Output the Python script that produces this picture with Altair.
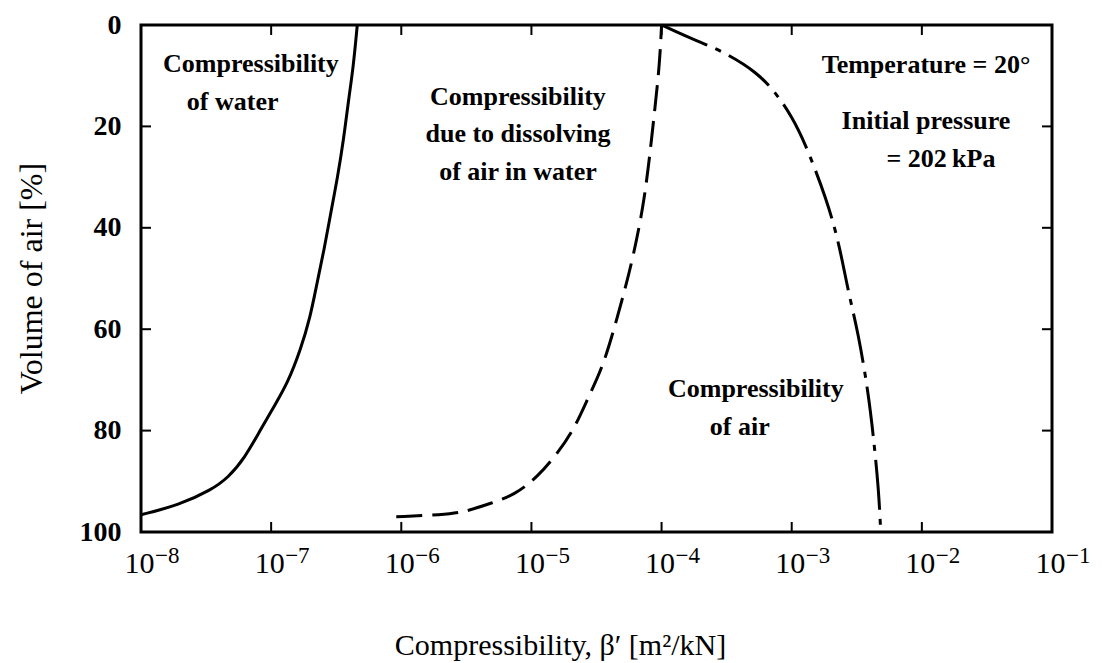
import altair as alt
import pandas as pd

# ---------------- data ----------------
beta_ticks = [1e-8, 1e-7, 1e-6, 1e-5, 1e-4, 1e-3, 1e-2, 1e-1]
beta_tick_base = "10"
beta_tick_exponents = ["−8", "−7", "−6", "−5", "−4", "−3", "−2", "−1"]
air_ticks = [0, 20, 40, 60, 80, 100]

# Compressibility of water (solid)
water_beta = [1.0e-8, 1.96e-8, 3.47e-8, 4.67e-8, 6.27e-8, 8.26e-8, 1.05e-7, 1.34e-7, 1.68e-7,
              2.0e-7, 2.25e-7, 2.55e-7, 2.87e-7, 3.24e-7, 3.6e-7, 3.93e-7, 4.28e-7, 4.59e-7]
water_air = [96.6, 94.7, 91.7, 89.3, 85.4, 79.9, 75.3, 70.6, 64.1,
             57.6, 50.9, 44.4, 37.1, 30.0, 22.7, 14.8, 8.3, 0.0]

# Compressibility due to dissolving of air in water (dashed)
diss_beta = [9.15e-7, 2.07e-6, 3.05e-6, 4.92e-6, 7.4e-6, 1.11e-5, 1.6e-5, 2.17e-5, 2.74e-5,
             3.52e-5, 4.29e-5, 5.14e-5, 6.04e-5, 7.23e-5, 8.05e-5, 8.82e-5, 9.65e-5, 1.0e-4]
diss_air = [97.0, 96.6, 96.1, 94.3, 92.7, 89.2, 84.4, 79.3, 73.4,
            67.5, 60.2, 52.9, 45.8, 35.9, 26.6, 17.2, 7.9, 0.0]

# Compressibility of air (dash-dot)
air_beta = [1.0e-4, 1.65e-4, 2.82e-4, 5.45e-4, 7.78e-4, 1.0e-3, 1.24e-3, 1.87e-3,
            2.34e-3, 2.7e-3, 3.25e-3, 3.88e-3, 4.25e-3, 4.66e-3, 4.83e-3]
air_air = [0.0, 2.6, 4.9, 9.3, 13.8, 18.1, 22.7, 34.5,
           43.7, 52.3, 60.8, 72.6, 81.3, 91.7, 100.0]

series_names = ["water", "dissolving", "air"]

rows = []
for name, bs, ys in zip(series_names, [water_beta, diss_beta, air_beta], [water_air, diss_air, air_air]):
    for b, y in zip(bs, ys):
        rows.append({"series": name, "beta": b, "air": y})
df = pd.DataFrame(rows)

inner_beta = pd.DataFrame({"b": beta_ticks[1:-1]})
inner_air = pd.DataFrame({"a": air_ticks[1:-1]})
exp_df = pd.DataFrame({"b": beta_ticks, "e": beta_tick_exponents})

# ---------------- styling ----------------
SERIF = "Liberation Serif"
W, H = 911, 507

xscale = alt.Scale(type="log", domain=[beta_ticks[0], beta_ticks[-1]], nice=False)
yscale = alt.Scale(domain=[air_ticks[0], air_ticks[-1]], reverse=True, nice=False, zero=False)

x_axis = alt.Axis(
    values=beta_ticks, labelExpr=f"'{beta_tick_base}'", title="Compressibility, β′ [m²/kN]",
)
y_axis = alt.Axis(values=air_ticks, title="Volume of air [%]")

base = alt.Chart(df)

water_line = base.transform_filter(alt.datum.series == "water").mark_line(
    color="black", strokeWidth=3, interpolate="basis"
).encode(
    x=alt.X("beta:Q", scale=xscale, axis=x_axis),
    y=alt.Y("air:Q", scale=yscale, axis=y_axis),
)
diss_line = base.transform_filter(alt.datum.series == "dissolving").mark_line(
    color="black", strokeWidth=3, strokeDash=[26, 10], interpolate="basis"
).encode(
    x=alt.X("beta:Q", scale=xscale, axis=x_axis),
    y=alt.Y("air:Q", scale=yscale, axis=y_axis),
)
air_line = base.transform_filter(alt.datum.series == "air").mark_line(
    color="black", strokeWidth=3, strokeDash=[50, 9, 6, 9], interpolate="basis"
).encode(
    x=alt.X("beta:Q", scale=xscale, axis=x_axis),
    y=alt.Y("air:Q", scale=yscale, axis=y_axis),
)

# inward ticks on all four sides
tick_style = dict(color="black", strokeWidth=2)
bottom_ticks = alt.Chart(inner_beta).mark_rule(y2Offset=-10, **tick_style).encode(
    x=alt.X("b:Q", scale=xscale, axis=x_axis),
    y=alt.YDatum(air_ticks[-1], axis=y_axis), y2=alt.Y2Datum(air_ticks[-1]),
)
top_ticks = alt.Chart(inner_beta).mark_rule(y2Offset=10, **tick_style).encode(
    x=alt.X("b:Q", scale=xscale, axis=x_axis),
    y=alt.YDatum(air_ticks[0], axis=y_axis), y2=alt.Y2Datum(air_ticks[0]),
)
left_ticks = alt.Chart(inner_air).mark_rule(x2Offset=10, **tick_style).encode(
    y=alt.Y("a:Q", scale=yscale, axis=y_axis),
    x=alt.XDatum(beta_ticks[0], axis=x_axis), x2=alt.X2Datum(beta_ticks[0]),
)
right_ticks = alt.Chart(inner_air).mark_rule(x2Offset=-10, **tick_style).encode(
    y=alt.Y("a:Q", scale=yscale, axis=y_axis),
    x=alt.XDatum(beta_ticks[-1], axis=x_axis), x2=alt.X2Datum(beta_ticks[-1]),
)

# exponents of the x tick labels (superscripts)
exponents = alt.Chart(exp_df).mark_text(
    font=SERIF, fontSize=23, color="black", align="left", baseline="alphabetic", dx=14, dy=31,
).encode(
    x=alt.X("b:Q", scale=xscale, axis=x_axis),
    y=alt.YDatum(air_ticks[-1], axis=y_axis),
    text="e:N",
)


def note(text, bx, ay, align="left"):
    return alt.Chart(inner_air).mark_text(
        text=text, font=SERIF, fontSize=26, fontWeight="bold", color="black",
        align=align, baseline="alphabetic",
    ).encode(
        x=alt.XDatum(bx, axis=x_axis), y=alt.YDatum(ay, axis=y_axis),
    ).transform_filter(alt.datum.a == air_ticks[1])


notes = [
    note("Compressibility", 1.476e-8, 9.27),
    note("of water", 2.25e-8, 16.77),
    note("Compressibility", 7.88e-6, 15.78, "center"),
    note("due to dissolving", 7.88e-6, 23.08, "center"),
    note("of air in water", 7.88e-6, 30.57, "center"),
    note("Temperature = 20°", 1.076e-2, 9.47, "center"),
    note("Initial pressure", 1.076e-2, 20.51, "center"),
    note("= 202\u2009kPa", 1.403e-2, 28.0, "center"),
    note("Compressibility", 1.12e-4, 73.37),
    note("of air", 2.35e-4, 80.87),
]

chart = alt.layer(
    water_line, diss_line, air_line,
    bottom_ticks, top_ticks, left_ticks, right_ticks,
    exponents,
    *notes,
).properties(
    width=W, height=H,
    autosize=alt.AutoSizeParams(type="none"),
    padding={"left": 141, "top": 25, "right": 50, "bottom": 131},
    background="white",
).configure_view(
    stroke="black", strokeWidth=3,
).configure_axis(
    ticks=False, tickSize=0, domain=False, grid=False,
    labelFont=SERIF, labelColor="black", labelFlush=False, labelOverlap=False,
    titleFont=SERIF, titleFontSize=30, titleFontWeight="normal", titleColor="black",
).configure_axisX(
    labelFontSize=30, labelAlign="left", labelOffset=-17,
    labelBaseline="alphabetic", labelPadding=40,
    titleX=419, titleY=122, titleAlign="center", titleBaseline="alphabetic",
).configure_axisY(
    labelFontSize=28, labelFontWeight="bold", labelPadding=20, labelBaseline="middle",
    titleFontSize=32, titleAngle=270, titleX=-100, titleY=253, titleAlign="center",
    titleBaseline="alphabetic",
)

chart.save("out.html", embed_options={"renderer": "svg", "actions": False})
